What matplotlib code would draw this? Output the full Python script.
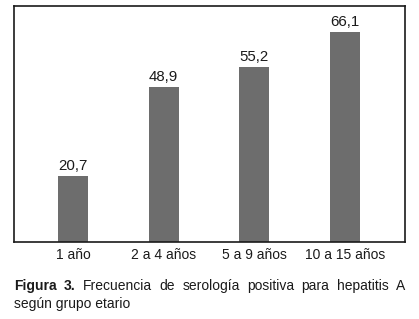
import matplotlib
matplotlib.use("Agg")
import matplotlib.pyplot as plt

# datos
grupos = ["1 año", "2 a 4 años", "5 a 9 años", "10 a 15 años"]
valores = [20.7, 48.9, 55.2, 66.1]
etiquetas = ["20,7", "48,9", "55,2", "66,1"]

plt.rcParams['font.family'] = ['Liberation Sans', 'DejaVu Sans']

fig = plt.figure(figsize=(4.19, 3.19), dpi=100)
ax = fig.add_axes([14/419, 77/319, 391/419, 236/319])

x = range(len(grupos))
ax.bar(x, valores, width=0.33, color="#6d6d6d")
ax.set_xlim(-0.65, 3.66)
ax.set_ylim(0, 74.3)
ax.set_yticks([])
ax.set_xticks(list(x))
ax.set_xticklabels(grupos, fontsize=10, color="#1a1a1a")
ax.tick_params(axis="x", length=0, pad=4)
for s in ax.spines.values():
    s.set_linewidth(1.2)
    s.set_color("#1a1a1a")

# valor encima de cada barra
for xi, v, t in zip(x, valores, etiquetas):
    ax.annotate(t, (xi, v), xytext=(0, 2), textcoords="offset points",
                ha="center", va="bottom", fontsize=10.8, color="#1a1a1a")

# pie de figura justificado (palabra por palabra)
fig.canvas.draw()
r = fig.canvas.get_renderer()
linea1 = [("Figura", "bold"), ("3.", "bold"), ("Frecuencia", "normal"), ("de", "normal"),
          ("serología", "normal"), ("positiva", "normal"), ("para", "normal"),
          ("hepatitis", "normal"), ("A", "normal")]
x0, x1 = 14, 405
y1 = 319 - 286
textos = []
ancho = 0
for w, peso in linea1:
    t = fig.text(0, y1/319, w, fontsize=10, fontweight=peso, va="center", ha="left", color="#1a1a1a")
    bb = t.get_window_extent(r)
    textos.append((t, bb.width))
    ancho += bb.width
hueco = (x1 - x0 - ancho) / (len(linea1) - 1)
pos = x0
for t, w in textos:
    t.set_x(pos / 419)
    pos += w + hueco

fig.text(x0/419, (319-304)/319, "según grupo etario", fontsize=10, va="center", ha="left", color="#1a1a1a")

fig.savefig("out.png", dpi=100)
